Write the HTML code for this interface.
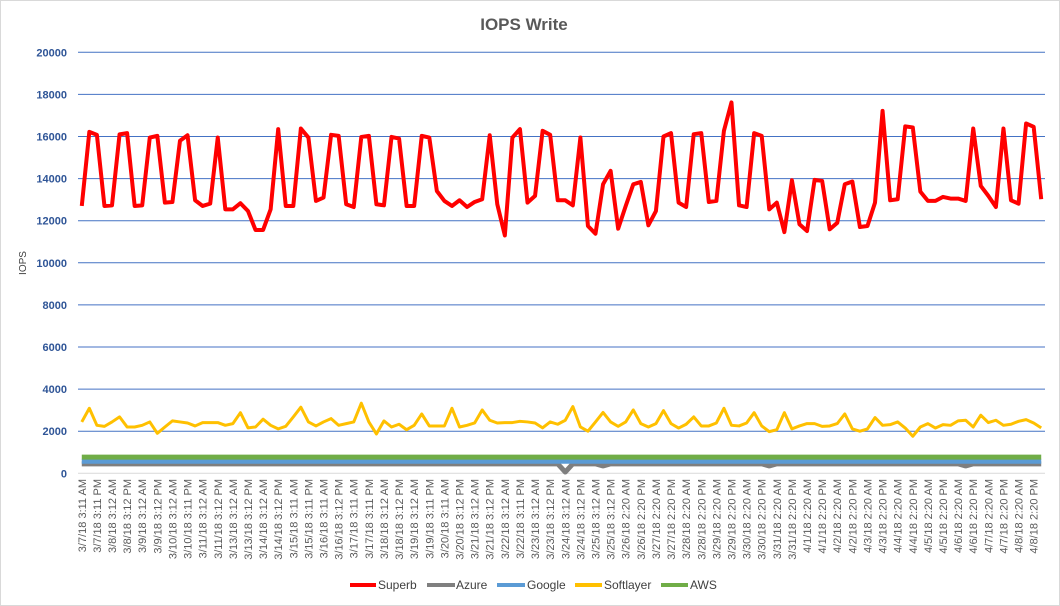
<!DOCTYPE html>
<html><head><meta charset="utf-8"><style>
html,body{margin:0;padding:0;background:#fff;}
svg{display:block;font-family:"Liberation Sans",sans-serif;}
</style></head><body>
<svg id="chart" width="1060" height="606" xmlns="http://www.w3.org/2000/svg">
<rect x="0.5" y="0.5" width="1059" height="605" fill="#fff" stroke="#d9d9d9"/>
<text x="524" y="30" text-anchor="middle" font-size="17" font-weight="bold" fill="#595959">IOPS Write</text>
<text transform="translate(26,263) rotate(-90)" text-anchor="middle" font-size="10" fill="#404040">IOPS</text>
<g id="grid"></g>
<g id="yticks"></g>
<g id="xticks"></g>
<g id="series"></g>
<g font-size="12" fill="#404040">
 <g><line x1="350" y1="585" x2="376" y2="585" stroke="#ff0000" stroke-width="4"/><text x="378" y="589">Superb</text></g>
 <g><line x1="427" y1="585" x2="455" y2="585" stroke="#7f7f7f" stroke-width="4"/><text x="456" y="589">Azure</text></g>
 <g><line x1="497" y1="585" x2="525" y2="585" stroke="#5b9bd5" stroke-width="4"/><text x="527" y="589">Google</text></g>
 <g><line x1="575" y1="585" x2="602" y2="585" stroke="#ffc000" stroke-width="4"/><text x="604" y="589">Softlayer</text></g>
 <g><line x1="661" y1="585" x2="688" y2="585" stroke="#70ad47" stroke-width="4"/><text x="690" y="589">AWS</text></g>
</g>
</svg>
<script>
const yTicks=[0,2000,4000,6000,8000,10000,12000,14000,16000,18000,20000];
const xLabels=["3/7/18 3:11 AM","3/7/18 3:11 PM","3/8/18 3:12 AM","3/8/18 3:12 PM","3/9/18 3:12 AM","3/9/18 3:12 PM","3/10/18 3:12 AM","3/10/18 3:11 PM","3/11/18 3:12 AM","3/11/18 3:12 PM","3/13/18 3:12 AM","3/13/18 3:12 PM","3/14/18 3:12 AM","3/14/18 3:12 PM","3/15/18 3:11 AM","3/15/18 3:11 PM","3/16/18 3:11 AM","3/16/18 3:12 PM","3/17/18 3:11 AM","3/17/18 3:11 PM","3/18/18 3:12 AM","3/18/18 3:12 PM","3/19/18 3:12 AM","3/19/18 3:11 PM","3/20/18 3:11 AM","3/20/18 3:12 PM","3/21/18 3:12 AM","3/21/18 3:12 PM","3/22/18 3:12 AM","3/22/18 3:11 PM","3/23/18 3:12 AM","3/23/18 3:12 PM","3/24/18 3:12 AM","3/24/18 3:12 PM","3/25/18 3:12 AM","3/25/18 3:12 PM","3/26/18 2:20 AM","3/26/18 2:20 PM","3/27/18 2:20 AM","3/27/18 2:20 PM","3/28/18 2:20 AM","3/28/18 2:20 PM","3/29/18 2:20 AM","3/29/18 2:20 PM","3/30/18 2:20 AM","3/30/18 2:20 PM","3/31/18 2:20 AM","3/31/18 2:20 PM","4/1/18 2:20 AM","4/1/18 2:20 PM","4/2/18 2:20 AM","4/2/18 2:20 PM","4/3/18 2:20 AM","4/3/18 2:20 PM","4/4/18 2:20 AM","4/4/18 2:20 PM","4/5/18 2:20 AM","4/5/18 2:20 PM","4/6/18 2:20 AM","4/6/18 2:20 PM","4/7/18 2:20 AM","4/7/18 2:20 PM","4/8/18 2:20 AM","4/8/18 2:20 PM"];
const superb=[12700,16220,16080,12700,12730,16100,16160,12700,12730,15950,16030,12860,12890,15800,16060,12970,12700,12810,15950,12540,12540,12830,12460,11560,11560,12540,16350,12700,12700,16380,15950,12940,13100,16080,16030,12780,12650,15980,16030,12780,12730,15980,15900,12700,12700,16030,15950,13410,12940,12700,12970,12650,12890,13020,16060,12780,11300,15950,16350,12860,13180,16270,16080,12970,12970,12730,15950,11750,11380,13730,14370,11620,12700,13730,13840,11780,12460,16000,16160,12860,12650,16110,16160,12890,12940,16270,17620,12730,12650,16160,16030,12540,12860,11460,13920,11830,11510,13940,13890,11590,11900,13730,13860,11700,11750,12860,17220,12970,13020,16480,16430,13380,12940,12940,13130,13050,13050,12940,16380,13650,13180,12650,16380,12970,12810,16620,16460,13020];
const softlayer=[2440,3090,2280,2230,2440,2680,2200,2200,2280,2440,1900,2200,2490,2440,2390,2250,2410,2410,2410,2280,2360,2880,2160,2200,2570,2280,2110,2230,2680,3140,2440,2250,2440,2600,2280,2360,2440,3330,2440,1870,2490,2200,2330,2070,2280,2820,2250,2250,2250,3090,2200,2280,2390,3010,2520,2390,2410,2410,2470,2440,2390,2160,2440,2330,2520,3170,2200,2000,2440,2890,2440,2230,2440,3010,2360,2200,2360,2980,2360,2150,2330,2680,2250,2250,2390,3090,2280,2250,2390,2880,2250,1980,2070,2880,2110,2250,2360,2360,2230,2250,2360,2820,2110,2000,2110,2650,2280,2310,2440,2150,1760,2200,2360,2150,2310,2280,2490,2520,2200,2760,2410,2520,2280,2330,2470,2550,2390,2160];
const n=superb.length;
const azure=superb.map((v,i)=>i===64?60:(i===91||i===117||i===69)?350:450);
const google=superb.map(()=>570);
const aws=superb.map(()=>770);
const L=78,R=1045,T=52.3,B=473.3,yMax=20000;
const step=(R-L)/n;
const X=i=>L+step*(i+0.5);
const Y=v=>B-(v/yMax)*(B-T);
const NS="http://www.w3.org/2000/svg";
function mk(tag,attrs,parent){const e=document.createElementNS(NS,tag);for(const k in attrs)e.setAttribute(k,attrs[k]);parent.appendChild(e);return e;}
const grid=document.getElementById('grid'),yt=document.getElementById('yticks'),xt=document.getElementById('xticks'),ser=document.getElementById('series');
yTicks.forEach(t=>{
 const ln=mk('line',{x1:L,x2:R,y1:Y(t),y2:Y(t),stroke:t===0?'#d9d9d9':'#4472c4','stroke-width':1},grid);
 
 
 const tx=mk('text',{x:67,y:Y(t)+4,'text-anchor':'end','font-size':11,'font-weight':'bold',fill:'#2f5597'},yt);
 tx.textContent=t;
 
 
});
xLabels.forEach((s,k)=>{
 const x=X(k*2);
 const tx=mk('text',{transform:`translate(${x+4},479) rotate(-90)`,'text-anchor':'end','font-size':11,fill:'#595959'},xt);
 tx.textContent=s;
 
 
});
function line(arr,color,w,name){
 const d=arr.map((v,i)=>(i?'L':'M')+X(i).toFixed(2)+' '+Y(v).toFixed(2)).join(' ');
 const p=mk('path',{d:d,fill:'none',stroke:color,'stroke-width':w,'stroke-linejoin':'round'},ser);
 
 
}
line(azure,'#7f7f7f',5,'series-azure');
line(google,'#5b9bd5',5,'series-google');
line(aws,'#70ad47',5,'series-aws');
line(softlayer,'#ffc000',3,'series-softlayer');
line(superb,'#ff0000',4,'series-superb');
</script>
</body></html>
